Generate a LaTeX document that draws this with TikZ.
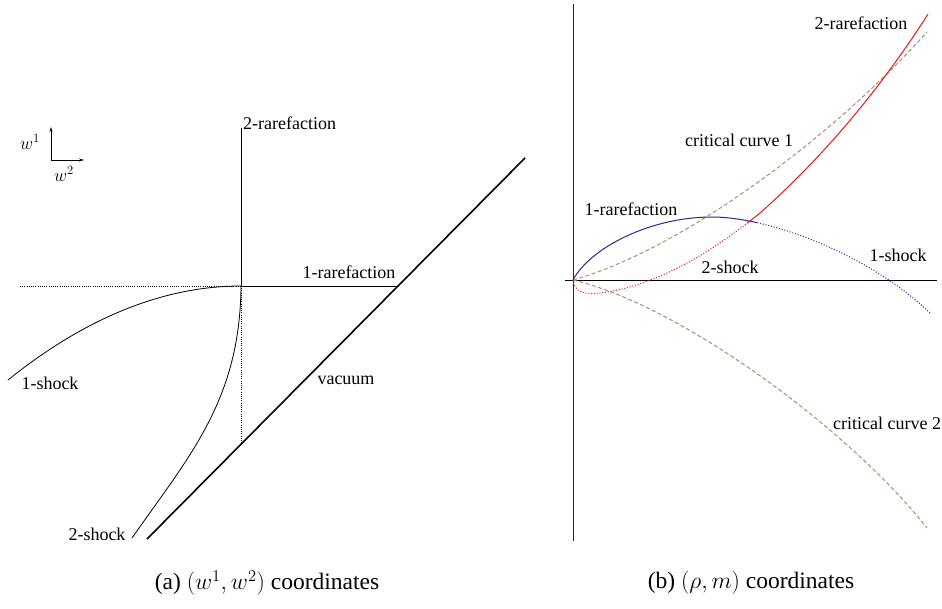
\RequirePackage{fix-cm}
\documentclass[tikz,border=0pt]{standalone}
\usepackage{fontspec}
\setmainfont{Liberation Serif}
\usetikzlibrary{arrows.meta}
\definecolor{cblue}{RGB}{40,40,150}
\definecolor{cred}{RGB}{240,20,20}
\definecolor{cbrown}{RGB}{165,145,115}
\begin{document}
\begin{tikzpicture}[x=1pt,y=-1pt,
  lbl/.style={font=\fontsize{18}{21}\selectfont, inner sep=0pt},
  caplbl/.style={font=\fontsize{23.5}{27}\selectfont, inner sep=0pt},
  thin/.style={line width=0.8pt},
  dotline/.style={line width=0.6pt, dash pattern=on 0.6pt off 1.6pt},
  cdot/.style={line width=1pt, dash pattern=on 1pt off 1.8pt},
  cdash/.style={cbrown, line width=1pt, dash pattern=on 4pt off 2.5pt}]
\useasboundingbox (0,0) rectangle (942,608);
% ---------- left panel ----------
\coordinate (ax0) at (51,160);
\coordinate (ax1) at (51,127);
\coordinate (ax2) at (84,160);
\draw[thin,-{Stealth[length=5pt,width=3pt]}] (ax0) -- (ax1);
\draw[thin,-{Stealth[length=5pt,width=3pt]}] (ax0) -- (ax2);
\node[lbl] (w1) at (30,142) {$w^1$};
\node[lbl] (w2) at (64,174) {$w^2$};
\coordinate (P) at (241,286);
\coordinate (Ptop) at (241,128);
\coordinate (Pleft) at (20,286);
\coordinate (Pdown) at (241,444);
\coordinate (V1) at (147,539);
\coordinate (V2) at (525,158);
\coordinate (Vr) at (399,286);
\coordinate (S1a) at (8,380);
\coordinate (S2a) at (132,538);
\draw[thin] (P) -- (Ptop);
\draw[dotline] (Pleft) -- (P);
\draw[dotline] (P) -- (Pdown);
\draw[thin] (P) -- (Vr);
\draw[line width=1.6pt] (V1) -- (V2);
\draw[thin] (S1a) .. controls (70,330) and (150,286) .. (P);
\draw[thin] (S2a) .. controls (190,455) and (240,400) .. (P);
\node[lbl, anchor=west] (l2r) at (243,123) {2-rarefaction};
\node[lbl] (l1r) at (349,272) {1-rarefaction};
\node[lbl] (lvac) at (346,380) {vacuum};
\node[lbl] (l1s) at (50,383) {1-shock};
\node[lbl] (l2s) at (97,534) {2-shock};
% ---------- right panel ----------
\coordinate (O) at (573,280);
\coordinate (Ytop) at (573,4);
\coordinate (Ybot) at (573,541);
\coordinate (Xl) at (565,280);
\coordinate (Xr) at (937,280);
\coordinate (B1) at (712,217);
\coordinate (B2) at (930,313);
\coordinate (R1) at (600,293);
\coordinate (R2) at (760,213);
\coordinate (R3) at (928,14);
\coordinate (C1) at (927,32);
\coordinate (C2) at (927,528);
\draw[gray!30!black, line width=0.9pt] (Ytop) -- (Ybot);
\draw[thin] (Xl) -- (Xr);
% critical curves
\draw[cdash] (O) .. controls (680,250) and (830,140) .. (C1);
\draw[cdash] (O) .. controls (680,305) and (850,430) .. (C2);
% blue 1-rarefaction / 1-shock
\begin{scope}
\clip (560,0) rectangle (757,600);
\draw[cblue, line width=1pt] (O) .. controls (590,248) and (650,217) .. (B1) .. controls (770,217) and (870,255) .. (B2);
\end{scope}
\begin{scope}
\clip (757,0) rectangle (942,600);
\draw[cblue, cdot] (O) .. controls (590,248) and (650,217) .. (B1) .. controls (770,217) and (870,255) .. (B2);
\end{scope}
% red 2-shock / 2-rarefaction
\begin{scope}
\clip (560,222) rectangle (942,600);
\draw[cred, cdot] (O) .. controls (574,292) and (585,295) .. (R1) .. controls (650,287) and (705,258) .. (R2) .. controls (820,160) and (880,90) .. (R3);
\end{scope}
\begin{scope}
\clip (560,0) rectangle (942,222);
\draw[cred, line width=1pt] (O) .. controls (574,292) and (585,295) .. (R1) .. controls (650,287) and (705,258) .. (R2) .. controls (820,160) and (880,90) .. (R3);
\end{scope}
\node[lbl] (r2r) at (861,23) {2-rarefaction};
\node[lbl] (rc1) at (739,140) {critical curve 1};
\node[lbl] (r1r) at (631,209) {1-rarefaction};
\node[lbl] (r2s) at (730,267) {2-shock};
\node[lbl] (r1s) at (898,255) {1-shock};
\node[lbl] (rc2) at (887,423) {critical curve 2};
% captions
\node[caplbl] (capa) at (267,583) {(a) $(w^1, w^2)$ coordinates};
\node[caplbl] (capb) at (751,583) {(b) $(\rho, m)$ coordinates};
\end{tikzpicture}
\end{document}
